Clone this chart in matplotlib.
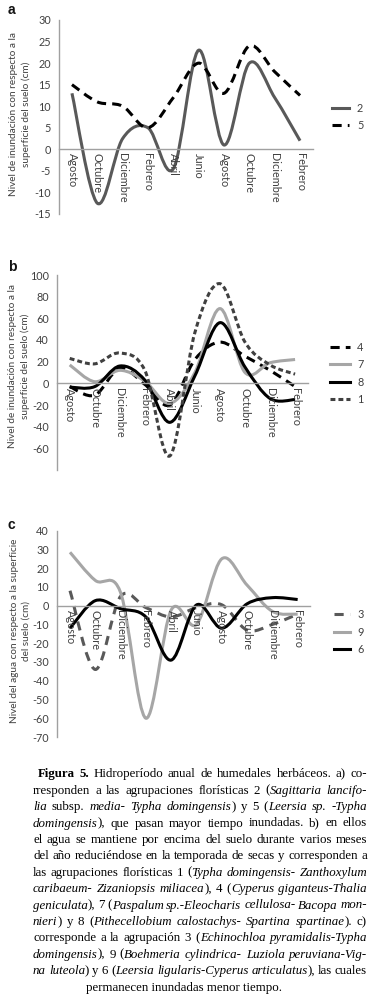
import numpy as np
import matplotlib
matplotlib.use('Agg')
import matplotlib.pyplot as plt
from matplotlib.path import Path
from matplotlib.patches import PathPatch
from matplotlib.lines import Line2D

plt.rcParams['font.family'] = ['Lato', 'DejaVu Sans']
plt.rcParams['axes.unicode_minus'] = False

meses = ['Agosto', 'Octubre', 'Diciembre', 'Febrero', 'Abril', 'Junio',
         'Agosto', 'Octubre', 'Diciembre', 'Febrero']

# a) agrupaciones 2 y 5
a_2 = [13, -12.5, 2.5, 5, -4.5, 23, 1, 20, 12, 2]
a_5 = [15, 11, 10, 5, 12, 20, 13, 24, 18, 12.5]

# b) agrupaciones 4, 7, 8 y 1
b_4 = [-3, -11, 14, -1, -20, 22, 38, 25, 12, -3]
b_7 = [17, 1.5, 12, 2, -18.5, 10, 69, 10, 19, 22]
b_8 = [-3.5, -3, 16, 3, -36, 7, 56, 15, -14, -15]
b_1 = [23, 18, 28, 12, -67, 47, 92, 38, 17, 8.5]

# c) agrupaciones 3, 9 y 6
c_3 = [8, -34, 5, -1, -6, -1, 0.5, -13, -10, -4.5]
c_9 = [28.5, 13.5, 7, -60, -2.3, -10, 25, 11, -3, -4.5]
c_6 = [-12, 2.7, -1.6, -6, -29, 0.4, -12, 1, 4.3, 3.3]

W, H = 373, 994
fig = plt.figure(figsize=(W / 100, H / 100), dpi=100)

GRIS = '#A0A0A0'
TXT = '#404040'
TICK_SIZE = 7.8


def smooth_path(y):
    # excel-like smoothed line: bezier segments through every point
    pts = np.column_stack([np.arange(len(y)), y]).astype(float)
    n = len(pts)
    verts = [pts[0]]
    codes = [Path.MOVETO]
    for i in range(n - 1):
        p0 = pts[max(i - 1, 0)]
        p1 = pts[i]
        p2 = pts[i + 1]
        p3 = pts[min(i + 2, n - 1)]
        verts += [p1 + (p2 - p0) / 6., p2 - (p3 - p1) / 6., p2]
        codes += [Path.CURVE4] * 3
    return Path(verts, codes)


def draw_series(ax, y, color, ls):
    patch = PathPatch(smooth_path(y), fill=False, edgecolor=color,
                      lw=2.2, linestyle=ls, capstyle='butt', joinstyle='round')
    ax.add_patch(patch)
    return Line2D([], [], color=color, lw=2.2, linestyle=ls)


def setup(ax, ylim, yticks):
    ax.set_xlim(-0.5, 9.5)
    ax.set_ylim(*ylim)
    for sp in ['top', 'right']:
        ax.spines[sp].set_visible(False)
    ax.spines['bottom'].set_position(('data', 0))
    ax.spines['bottom'].set_color(GRIS)
    ax.spines['left'].set_color(GRIS)
    ax.spines['bottom'].set_linewidth(1.0)
    ax.spines['left'].set_linewidth(1.0)
    ax.tick_params(axis='both', length=0, labelsize=TICK_SIZE, colors=TXT)
    ax.tick_params(axis='y', pad=6)
    ax.tick_params(axis='x', pad=3, labelrotation=-90)
    ax.set_yticks(yticks)
    ax.set_xticks(range(len(meses)))
    ax.set_xticklabels(meses, rotation=-90, ha='center', va='top',
                       rotation_mode='default')
    ax.patch.set_visible(False)


def fx(px):
    return px / W


def fy(py):
    return 1 - py / H


leg_kw = dict(loc='center left', bbox_transform=fig.transFigure, frameon=False,
              fontsize=TICK_SIZE, handletextpad=0.7, labelspacing=0.6,
              borderpad=0, borderaxespad=0, labelcolor=TXT)

# panel a
ax_a = fig.add_axes([fx(59.3), fy(214), fx(312.7 - 59.3), (214 - 20) / H])
setup(ax_a, (-15, 30), range(-15, 31, 5))
h2 = draw_series(ax_a, a_2, '#595959', '-')
h5 = draw_series(ax_a, a_5, 'black', (0, (3, 2)))
ax_a.legend([h2, h5], ['2', '5'], bbox_to_anchor=(fx(332), fy(117)),
            handlelength=1.6, **leg_kw)

# panel b
ax_b = fig.add_axes([fx(57.2), fy(470), fx(307.6 - 57.2), (470 - 275) / H])
setup(ax_b, (-80, 100), range(-60, 101, 20))
h4 = draw_series(ax_b, b_4, 'black', (0, (3, 2)))
h7 = draw_series(ax_b, b_7, '#A6A6A6', '-')
h8 = draw_series(ax_b, b_8, 'black', '-')
h1 = draw_series(ax_b, b_1, '#404040', (0, (1.6, 1)))
ax_b.legend([h4, h7, h8, h1], ['4', '7', '8', '1'], bbox_to_anchor=(fx(330), fy(373.5)),
            handlelength=1.8, **leg_kw)

# panel c
ax_c = fig.add_axes([fx(57.35), fy(737), fx(310.3 - 57.35), (737 - 530.7) / H])
setup(ax_c, (-70, 40), range(-70, 41, 10))
h3 = draw_series(ax_c, c_3, '#595959', (0, (3, 2.2)))
h9 = draw_series(ax_c, c_9, '#A6A6A6', '-')
h6 = draw_series(ax_c, c_6, 'black', '-')
ax_c.legend([h3, h9, h6], ['3', '9', '6'], bbox_to_anchor=(fx(334), fy(632)),
            handlelength=1.5, **leg_kw)

# y labels
ylab_kw = dict(rotation=90, ha='center', va='center', fontsize=7.2,
               color=TXT, linespacing=1.4, multialignment='center')
fig.text(fx(20), fy(114), 'Nivel de inundación con respecto a la\nsuperficie del suelo (cm)', **ylab_kw)
fig.text(fx(19), fy(366), 'Nivel de inundación con respecto a la\nsuperficie del suelo (cm)', **ylab_kw)
fig.text(fx(20), fy(631), 'Nivel del agua con respecto a la superficie\ndel suelo (cm)', **ylab_kw)

# panel letters
for letra, x, y in [('a', 11.5, 10), ('b', 12, 267), ('c', 11, 525)]:
    fig.text(fx(x), fy(y), letra, fontsize=10, fontweight='bold',
             family='Liberation Sans', ha='center', va='center', color='#111111')

# caption
caption = [
    [('Figura 5.', 'b'), (' Hidroperíodo anual de humedales herbáceos. a) co-', 'r')],
    [('rresponden a las agrupaciones florísticas 2 (', 'r'), ('Sagittaria lancifo-', 'i')],
    [('lia', 'i'), (' subsp. ', 'r'), ('media- Typha domingensis', 'i'), (') y 5 (', 'r'),
     ('Leersia sp. -Typha', 'i')],
    [('domingensis', 'i'), ('), que  pasan mayor tiempo inundadas. b) en ellos', 'r')],
    [('el agua se mantiene por encima del suelo durante varios meses', 'r')],
    [('del año reduciéndose en la temporada de secas y corresponden a', 'r')],
    [('las agrupaciones florísticas 1 (', 'r'), ('Typha domingensis- Zanthoxylum', 'i')],
    [('caribaeum- Zizaniopsis miliacea', 'i'), ('), 4 (', 'r'), ('Cyperus giganteus-Thalia', 'i')],
    [('geniculata', 'i'), ('), 7 (', 'r'), ('Paspalum sp.-Eleocharis cellulosa- Bacopa mon-', 'i')],
    [('nieri', 'i'), (') y 8 (', 'r'), ('Pithecellobium calostachys- Spartina spartinae', 'i'),
     ('). c)', 'r')],
    [('corresponde a la agrupación 3 (', 'r'), ('Echinochloa pyramidalis-Typha', 'i')],
    [('domingensis', 'i'), ('), 9 (', 'r'), ('Boehmeria cylindrica- Luziola peruviana-Vig-', 'i')],
    [('na luteola', 'i'), (') y 6 (', 'r'), ('Leersia ligularis-Cyperus articulatus', 'i'),
     ('), las cuales', 'r')],
]
ultima = 'permanecen inundadas menor tiempo.'
estilos = {'r': dict(), 'i': dict(style='italic'), 'b': dict(weight='bold')}
cap_size = 9.3
renderer = fig.canvas.get_renderer()


def ancho(s, st):
    t = fig.text(0, 0, s, family='Liberation Serif', fontsize=cap_size, **estilos[st])
    w = t.get_window_extent(renderer).width
    t.remove()
    return w


# extra width the extents give each separate text
extra = 2 * ancho('n', 'r') - ancho('nn', 'r')


def palabras(runs):
    words = [[]]
    for txt, st in runs:
        for k, p in enumerate(txt.split(' ')):
            if k > 0:
                words.append([])
            if p:
                words[-1].append((p, st))
    return [w for w in words if w]


def draw_line(runs, y, x0, x1):
    # justified line, word by word
    words = palabras(runs)
    objs = []
    for w in words:
        piezas = []
        for p, st in w:
            t = fig.text(0, fy(y + 4), p, family='Liberation Serif', fontsize=cap_size,
                         va='baseline', ha='left', color='black', **estilos[st])
            piezas.append((t, t.get_window_extent(renderer).width - extra))
        objs.append(piezas)
    anchos = [sum(a for _, a in pz) for pz in objs]
    gap = (x1 - x0 - sum(anchos)) / (len(objs) - 1)
    x = x0
    for pz, a in zip(objs, anchos):
        xx = x
        for t, aw in pz:
            t.set_x(fx(xx))
            xx += aw
        x += a + gap


y0, dy = 773.3, 16.4
for i, runs in enumerate(caption):
    draw_line(runs, y0 + i * dy, 38 if i == 0 else 33, 367)
fig.text(fx(184.5), fy(y0 + len(caption) * dy + 4), ultima, family='Liberation Serif',
         fontsize=cap_size, va='baseline', ha='center', color='black')

fig.savefig('out.png', dpi=100)
